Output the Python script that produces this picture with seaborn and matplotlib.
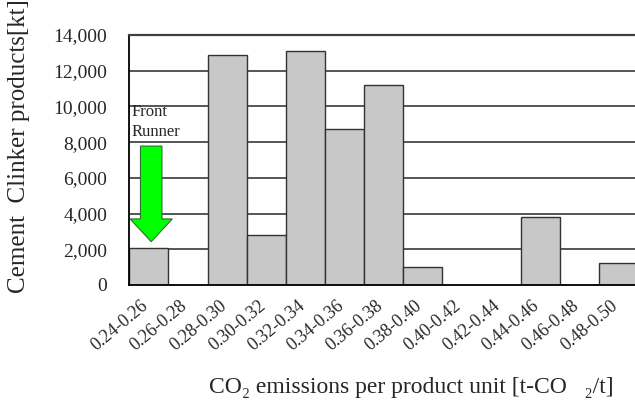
import matplotlib
matplotlib.use("Agg")
import matplotlib.pyplot as plt
import matplotlib.ticker as mticker
from matplotlib.patches import FancyArrow
from matplotlib.transforms import ScaledTranslation
import seaborn as sns
import pandas as pd

# ---- data ----
categories = ["0.24-0.26", "0.26-0.28", "0.28-0.30", "0.30-0.32", "0.32-0.34",
              "0.34-0.36", "0.36-0.38", "0.38-0.40", "0.40-0.42", "0.42-0.44",
              "0.44-0.46", "0.46-0.48", "0.48-0.50"]
production_kt = [2090, 0, 12880, 2780, 13100, 8740, 11190, 990, 0, 0, 3800, 0, 1210]
y_ticks = [0, 2000, 4000, 6000, 8000, 10000, 12000, 14000]

y_label = "Cement  Clinker products[kt]"
x_label = "CO\u2082 emissions per product unit [t-CO   \u2082/t]"
note_text = "Front\nRunner"

# annotation arrow (data units)
arrow_x = 0.06
arrow_top = 7780
arrow_tip = 2425
arrow_head_len = 1275
arrow_shaft_w = 0.55
arrow_head_w = 1.08

sns.set_style("white")
plt.rcParams["font.family"] = ["Liberation Serif", "DejaVu Serif"]

df = pd.DataFrame({"range": categories, "value": production_kt})

fig = plt.figure(figsize=(6.35, 4.05), dpi=100)
ax = fig.add_axes([0.2036, 0.2963, 0.801, 0.6173])

for yt in y_ticks[1:-1]:
    ax.axhline(yt, color="#555555", linewidth=1.4, zorder=0)

sns.barplot(data=df, x="range", y="value", ax=ax, width=1.0,
            color="#c8c8c8", saturation=1, edgecolor="#333333", linewidth=1.0,
            zorder=2)

ax.set_ylim(0, 14000)
ax.set_xlim(-0.5, len(categories) - 0.5)
ax.set_yticks(y_ticks)
ax.yaxis.set_major_formatter(mticker.FuncFormatter(lambda v, p: f"{int(v):,}"))
ax.grid(False)

for s in ["left", "bottom"]:
    ax.spines[s].set_color("black")
    ax.spines[s].set_linewidth(1.3)
ax.spines["top"].set_color("#404040")
ax.spines["top"].set_linewidth(1.6)
ax.spines["right"].set_visible(False)

ax.tick_params(axis="y", length=0, pad=16, labelsize=14)
ax.tick_params(axis="x", which="major", length=0, pad=9, labelsize=13)
ax.set_xticks(range(len(categories)))
ax.set_xticklabels(categories, rotation=40, ha="right", va="top",
                   rotation_mode="anchor")
off = ScaledTranslation(-6 / 72, 0, fig.dpi_scale_trans)
for lab in ax.get_xticklabels():
    lab.set_transform(lab.get_transform() + off)

ax.xaxis.set_minor_locator(mticker.FixedLocator([i + 0.5 for i in range(len(categories) - 1)]))
ax.tick_params(axis="x", which="minor", direction="in", length=4, width=1.3,
               color="#666666")

ax.set_xlabel("")
ax.set_ylabel("")
fig.text(0.03, 0.277, y_label, rotation=90, ha="center", va="bottom", fontsize=18)
fig.text(0.648, 0.043, x_label, ha="center", va="center", fontsize=17)

arrow = FancyArrow(arrow_x, arrow_top, 0, arrow_tip - arrow_top,
                   width=arrow_shaft_w, head_width=arrow_head_w,
                   head_length=arrow_head_len, length_includes_head=True,
                   facecolor="#00ff00", edgecolor="#2f6f2f", linewidth=0.8,
                   zorder=5)
ax.add_patch(arrow)
ax.text(-0.45, 10130, note_text, ha="left", va="top", fontsize=12,
        linespacing=1.35, zorder=6)

fig.savefig("out.png", dpi=100)
